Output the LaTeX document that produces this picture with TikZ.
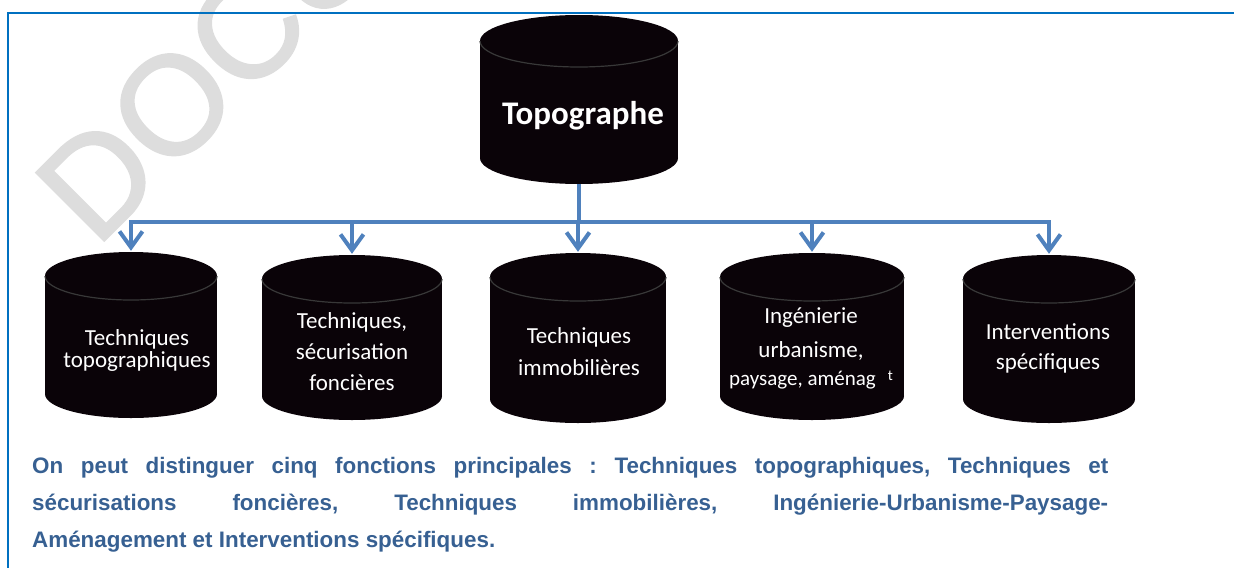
\documentclass[tikz,border=0pt]{standalone}
\usepackage{fontspec}
\setmainfont{Carlito}
\newfontfamily\arialfont{Liberation Sans}
\newfontfamily\wmfont{Liberation Sans}[FakeBold=1.5]
\usetikzlibrary{arrows.meta}
\definecolor{framec}{HTML}{0070C0}
\definecolor{arrowc}{HTML}{4F81BD}
\definecolor{capc}{HTML}{376092}
\definecolor{wmc}{HTML}{DDDDDD}
\definecolor{cylc}{HTML}{0A0308}
\definecolor{rimc}{HTML}{383838}
\frenchspacing
% #1 name, #2 centre x, #3 top y, #4 bottom y, #5 half width, #6 ellipse y radius
\newcommand\drawcyl[6]{%
  \fill[cylc] ({#2},{#3+#6}) ellipse[x radius=#5, y radius=#6];
  \fill[cylc] ({#2-#5},{#3+#6}) rectangle ({#2+#5},{#4-#6});
  \fill[cylc] ({#2},{#4-#6}) ellipse[x radius=#5, y radius=#6];
  \draw[rimline] ({#2+#5},{#3+#6}) arc[start angle=0, end angle=180, x radius=#5, y radius=#6];
  \node[inner sep=0pt, minimum width={2*#5}, minimum height={#4-#3}] (#1) at ({#2},{(#3+#4)/2}) {};
}
\begin{document}
\begin{tikzpicture}[x=1pt,y=-1pt,
  rimline/.style={draw=rimc, line width=1.2pt},
  bus/.style={draw=arrowc, line width=4pt},
  busarrow/.style={bus, -{Straight Barb[length=16pt,width=23pt]}},
  celltext/.style={text=white, align=center, inner sep=0pt, font=\fontsize{23}{30}\selectfont},
  frameline/.style={draw=framec, line width=2.5pt}]
\useasboundingbox (0,0) rectangle (1234,568);
\begin{scope}
\clip (0,0) rectangle (1234,568);
\node[anchor=base west, rotate=45, inner sep=0pt, text=wmc,
  font=\wmfont\fontsize{140}{140}\selectfont] (wm) at (96,249) {DOCU};
\end{scope}
\draw[frameline] (1234,13) -- (8,13) -- (8,568);

% cylinders
\drawcyl{topo}{579}{15}{184}{99}{26}
\drawcyl{c1}{131}{252}{418}{86}{24}
\drawcyl{c2}{352}{255}{420}{90}{24}
\drawcyl{c3}{578}{253}{423}{88}{24}
\drawcyl{c4}{812}{253}{420}{92}{24}
\drawcyl{c5}{1049}{255}{423}{86}{24}

% texts
\node[text=white, inner sep=0pt, font=\fontsize{33}{38}\selectfont\bfseries] (ttopo) at (583,116) {Topographe};
\node[celltext, font=\fontsize{23}{22}\selectfont] (t1) at (137,350) {Techniques\\topographiques};
\node[celltext, font=\fontsize{23}{31}\selectfont] (t2) at (352,352) {Techniques,\\sécurisation\\foncières};
\node[celltext, font=\fontsize{23}{32}\selectfont] (t3) at (579,352) {Techniques\\immobilières};
\node[celltext, font=\fontsize{23}{34}\selectfont] (t4) at (811,348) {Ingénierie\\urbanisme,\\[-6pt]{\fontsize{21}{25}\selectfont paysage, aménag\hspace{12pt}\raisebox{5pt}{\fontsize{15}{15}\selectfont t}}};
\node[celltext, font=\fontsize{23}{30}\selectfont] (t5) at (1048,348) {Interventions\\spécifiques};

% connectors
\coordinate (j) at (579,222);
\draw[bus] (topo.south) -- (j);
\foreach \c in {c1,c2,c3,c4,c5}{
  \draw[busarrow, shorten >=1pt] (j) -| (\c.north);
}

% caption
\node[anchor=north west, inner sep=0pt, text=capc, align=left,
  font=\arialfont\bfseries\fontsize{22.4}{37}\selectfont] (cap) at (32,457)
  {\makebox[1076pt][s]{On peut distinguer cinq fonctions principales : Techniques topographiques, Techniques et}\\
   \makebox[1076pt][s]{sécurisations foncières, Techniques immobilières, Ingénierie-Urbanisme-Paysage-}\\
   Aménagement et Interventions spécifiques.};
\end{tikzpicture}
\end{document}
